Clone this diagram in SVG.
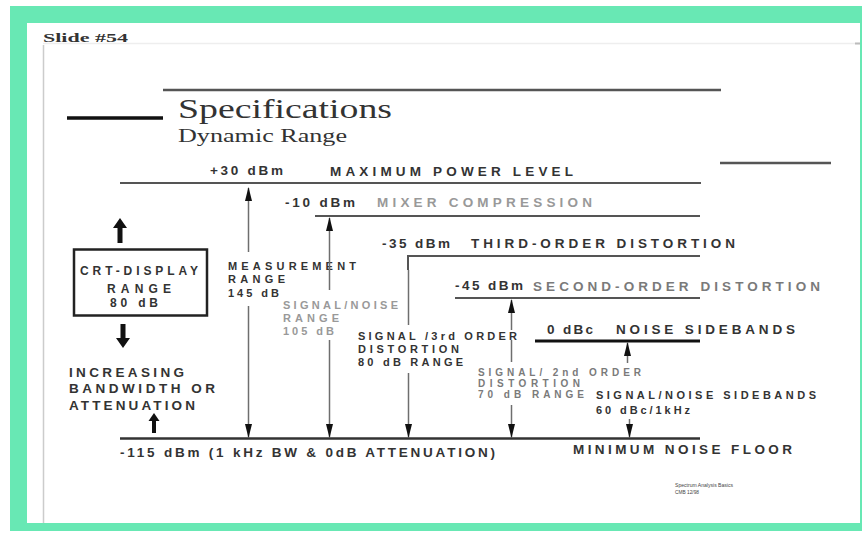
<svg xmlns="http://www.w3.org/2000/svg" width="862" height="533" viewBox="0 0 862 533">
<style>
.s{font-family:"Liberation Sans",Arial,sans-serif;font-weight:bold;font-size:13.5px;fill:#333}
.sm{font-size:11px}
.md12{font-size:12px}
.xs{font-size:10px}
.lt{fill:#999}
.md{fill:#7a7a7a}
.ser{font-family:"Liberation Serif","Times New Roman",serif;fill:#333}
.lvl{stroke:#555;stroke-width:2;fill:none}
.vl{stroke:#6e6e6e;stroke-width:1.5;fill:none}
</style>
<defs>
<marker id="ah" markerUnits="userSpaceOnUse" markerWidth="14" markerHeight="10" viewBox="0 0 14 10" refX="13" refY="5" orient="auto">
<path d="M0,1.5 L14,5 L0,8.5 Z" fill="#111"/>
</marker>
</defs>
<rect x="0" y="0" width="862" height="533" fill="#fff"/>
<rect x="10" y="6" width="852" height="525" fill="#68e8b4"/>
<rect x="27" y="23" width="833" height="500" fill="#fff"/>
<g id="frame">
<line x1="43" y1="43.5" x2="860" y2="43.5" stroke="#eee" stroke-width="1.5"/>
<line x1="855" y1="43.5" x2="860" y2="43.5" stroke="#bbb" stroke-width="2"/>
<line x1="43.5" y1="45" x2="43.5" y2="523" stroke="#ccc" stroke-width="1.5"/>
<text x="43" y="42" class="ser" font-weight="bold" font-size="13" textLength="85" lengthAdjust="spacingAndGlyphs" fill="#222">Slide #54</text>
</g>
<g id="title">
<line x1="163" y1="90" x2="721" y2="90" stroke="#555" stroke-width="2.5"/>
<line x1="67" y1="118" x2="163" y2="118" stroke="#111" stroke-width="3.5"/>
<line x1="720" y1="163" x2="831" y2="163" stroke="#555" stroke-width="2.5"/>
<text x="178" y="118" class="ser" font-size="27" textLength="214" lengthAdjust="spacingAndGlyphs">Specifications</text>
<text x="178" y="142" class="ser" font-size="18" textLength="169" lengthAdjust="spacingAndGlyphs">Dynamic Range</text>
</g>
<g id="max-power">
<line class="lvl" x1="120" y1="183" x2="701" y2="183"/>
<text x="210" y="175" class="s" textLength="73" lengthAdjust="spacing">+30 dBm</text>
<text x="330" y="176" class="s" textLength="243" lengthAdjust="spacing">MAXIMUM POWER LEVEL</text>
</g>
<g id="mixer-compression">
<line class="lvl" x1="315" y1="216" x2="700" y2="216"/>
<text x="285" y="207" class="s" textLength="70" lengthAdjust="spacing">-10 dBm</text>
<text x="377" y="207" class="s lt" textLength="215" lengthAdjust="spacing">MIXER COMPRESSION</text>
</g>
<g id="third-order">
<path class="lvl" d="M408,270 V256 H700"/>
<text x="382" y="248" class="s" textLength="68" lengthAdjust="spacing">-35 dBm</text>
<text x="471" y="248" class="s" textLength="264" lengthAdjust="spacing">THIRD-ORDER DISTORTION</text>
</g>
<g id="second-order">
<line class="lvl" x1="455" y1="298" x2="700" y2="298"/>
<text x="455" y="290" class="s" textLength="68" lengthAdjust="spacing">-45 dBm</text>
<text x="533" y="291" class="s md" textLength="287" lengthAdjust="spacing">SECOND-ORDER DISTORTION</text>
</g>
<g id="noise-sidebands">
<line x1="535" y1="341" x2="700" y2="341" stroke="#111" stroke-width="3"/>
<text x="547" y="334" class="s" textLength="46" lengthAdjust="spacing">0 dBc</text>
<text x="616" y="334" class="s" fill="#222" textLength="179" lengthAdjust="spacing">NOISE SIDEBANDS</text>
</g>
<g id="noise-floor">
<line x1="120" y1="438.5" x2="700" y2="438.5" stroke="#333" stroke-width="2.5"/>
<text x="120" y="457" class="s" textLength="375" lengthAdjust="spacing">-115 dBm (1 kHz BW &amp; 0dB ATTENUATION)</text>
<text x="573" y="454" class="s" textLength="219" lengthAdjust="spacing">MINIMUM NOISE FLOOR</text>
</g>
<g id="measurement-range">
<text x="228" y="270" class="s sm" textLength="128" lengthAdjust="spacing">MEASUREMENT</text>
<text x="228" y="283" class="s sm" textLength="57" lengthAdjust="spacing">RANGE</text>
<text x="228" y="296.5" class="s sm" textLength="51" lengthAdjust="spacing">145 dB</text>
</g>
<g id="signal-noise-range">
<text x="283" y="309" class="s sm lt" textLength="115" lengthAdjust="spacing">SIGNAL/NOISE</text>
<text x="283" y="322" class="s sm lt" textLength="56" lengthAdjust="spacing">RANGE</text>
<text x="283" y="335" class="s sm lt" textLength="51" lengthAdjust="spacing">105 dB</text>
</g>
<g id="third-order-range">
<text x="358" y="340" class="s sm" textLength="159" lengthAdjust="spacing">SIGNAL /3rd ORDER</text>
<text x="358" y="353" class="s sm" textLength="101" lengthAdjust="spacing">DISTORTION</text>
<text x="358" y="366" class="s sm" textLength="105" lengthAdjust="spacing">80 dB RANGE</text>
</g>
<g id="second-order-range">
<text x="478" y="376" class="s xs md" textLength="163" lengthAdjust="spacing">SIGNAL/ 2nd ORDER</text>
<text x="478" y="387" class="s xs md" textLength="102" lengthAdjust="spacing">DISTORTION</text>
<text x="478" y="398" class="s xs md" textLength="106" lengthAdjust="spacing">70 dB RANGE</text>
</g>
<g id="sideband-range">
<text x="596" y="399" class="s sm" textLength="220" lengthAdjust="spacing">SIGNAL/NOISE SIDEBANDS</text>
<text x="596" y="414" class="s sm" textLength="94" lengthAdjust="spacing">60 dBc/1kHz</text>
</g>
<g id="crt-display">
<rect x="74" y="249.5" width="133" height="66" fill="none" stroke="#222" stroke-width="2.5"/>
<text x="139" y="275" class="s md12" fill="#555" text-anchor="middle" textLength="118" lengthAdjust="spacing">CRT-DISPLAY</text>
<text x="139" y="292.5" class="s md12" fill="#555" text-anchor="middle" textLength="64" lengthAdjust="spacing">RANGE</text>
<text x="134" y="306.5" class="s md12" fill="#555" text-anchor="middle" textLength="48" lengthAdjust="spacing">80 dB</text>
</g>
<g id="bandwidth-note">
<text x="69" y="377" class="s" textLength="115" lengthAdjust="spacing">INCREASING</text>
<text x="69" y="393" class="s" textLength="146" lengthAdjust="spacing">BANDWIDTH OR</text>
<text x="69" y="410" class="s" textLength="126" lengthAdjust="spacing">ATTENUATION</text>
</g>
<g id="footer">
<text x="675" y="487" font-family="Liberation Sans, Arial, sans-serif" font-size="5" fill="#444" textLength="58" lengthAdjust="spacingAndGlyphs">Spectrum Analysis Basics</text>
<text x="675" y="494" font-family="Liberation Sans, Arial, sans-serif" font-size="5" fill="#444" textLength="24" lengthAdjust="spacingAndGlyphs">CMB   12/98</text>
</g>
<g id="connectors">
<line class="vl" x1="248.5" y1="252" x2="248.5" y2="188" marker-end="url(#ah)"/>
<line class="vl" x1="248.5" y1="306" x2="248.5" y2="437" marker-end="url(#ah)"/>
<line class="vl" x1="329.5" y1="290" x2="329.5" y2="218" marker-end="url(#ah)"/>
<line class="vl" x1="329.5" y1="340" x2="329.5" y2="437" marker-end="url(#ah)"/>
<line class="vl" x1="408.5" y1="270" x2="408.5" y2="325"/>
<line class="vl" x1="408.5" y1="373" x2="408.5" y2="437" marker-end="url(#ah)"/>
<line class="vl" x1="511.5" y1="330" x2="511.5" y2="300" marker-end="url(#ah)"/>
<line class="vl" x1="511.5" y1="340" x2="511.5" y2="362"/>
<line class="vl" x1="511.5" y1="405" x2="511.5" y2="437" marker-end="url(#ah)"/>
<line class="vl" x1="627.5" y1="363" x2="627.5" y2="343" marker-end="url(#ah)"/>
<line class="vl" x1="629.5" y1="419" x2="629.5" y2="437" marker-end="url(#ah)"/>
<path d="M117.5,243 V228 H113 L120,218 L127,228 H122.5 V243 Z" fill="#111"/>
<path d="M120.5,324 V338 H116 L123,348 L130,338 H125.5 V324 Z" fill="#111"/>
<path d="M152,433 V421 H148.5 L154,413 L159.5,421 H156 V433 Z" fill="#111"/>
</g>
</svg>
